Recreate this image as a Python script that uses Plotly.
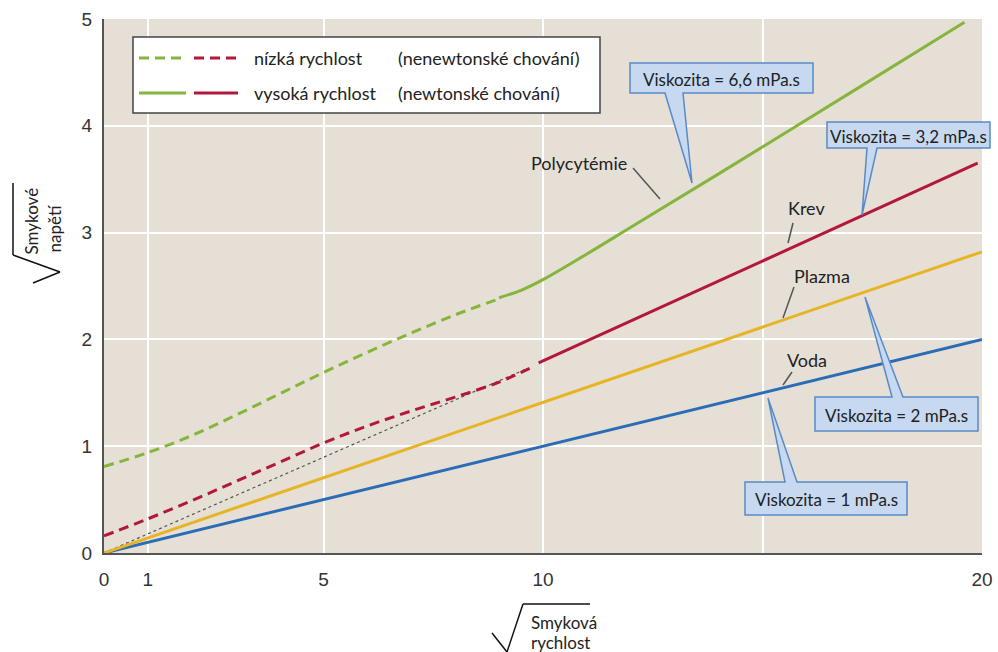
import plotly.graph_objects as go

# ---------------- data ----------------
voda_x = [0, 20]
voda_y = [0.0, 2.0]
plazma_x = [0, 20]
plazma_y = [0.0, 2.82]
krev_low_x = [0, 1, 2, 3, 4, 5, 6, 7, 8, 9, 9.8]
krev_low_y = [0.16, 0.32, 0.49, 0.67, 0.85, 1.03, 1.19, 1.33, 1.46, 1.60, 1.75]
krev_high_x = [9.9, 19.9]
krev_high_y = [1.78, 3.65]
poly_low_x = [0, 1, 2, 3, 4, 5, 6, 7, 8, 9]
poly_low_y = [0.81, 0.94, 1.10, 1.29, 1.49, 1.69, 1.88, 2.06, 2.23, 2.38]
poly_high_x = [9.0, 9.5, 10, 11, 12, 14, 17.2, 19.6]
poly_high_y = [2.39, 2.46, 2.56, 2.80, 3.05, 3.55, 4.36, 4.97]
ref_x = [0, 9.6]
ref_y = [0.0, 1.72]

x_ticks = [0, 1, 5, 10, 15, 20]
x_ticktext = ["0", "1", "5", "10", "", "20"]
y_ticks = [0, 1, 2, 3, 4, 5]

legend_rows = [("nízká rychlost", "(nenewtonské chování)"),
               ("vysoká rychlost", "(newtonské chování)")]
curve_labels = ["Polycytémie", "Krev", "Plazma", "Voda"]
callout_texts = ["Viskozita = 6,6 mPa.s", "Viskozita = 3,2 mPa.s",
                 "Viskozita = 2 mPa.s", "Viskozita = 1 mPa.s"]

# ---------------- styles ----------------
GREEN = "#86b53c"
RED = "#b3173b"
YELLOW = "#e6b425"
BLUE = "#2a6cb5"
BG = "#e6dfd6"
LBL_FONT = "Lato, 'Open Sans', sans-serif"
TICK_FONT = "'Liberation Sans', Arial, sans-serif"
DASH = "10px,6px"

W, H = 998, 652
L, R, T, B = 104, 982, 19, 553


def PX(x):
    return (x - L) / (R - L)


def PY(y):
    return (B - y) / (B - T)


fig = go.Figure()


def add_line(x, y, color, dash=None, width=3, spline=False):
    fig.add_trace(go.Scatter(
        x=x, y=y, mode="lines", showlegend=False, hoverinfo="skip",
        line=dict(color=color, width=width, dash=dash,
                  shape="spline" if spline else "linear")))


add_line(ref_x, ref_y, "#555555", dash="3px,3px", width=1.2)
add_line(voda_x, voda_y, BLUE)
add_line(plazma_x, plazma_y, YELLOW)
add_line(krev_low_x, krev_low_y, RED, dash=DASH, spline=True)
add_line(krev_high_x, krev_high_y, RED)
add_line(poly_low_x, poly_low_y, GREEN, dash=DASH, spline=True)
add_line(poly_high_x, poly_high_y, GREEN, spline=True)

shapes = []
annotations = []


def pline(x0, y0, x1, y1, color="#555555", width=1.5, dash=None):
    shapes.append(dict(type="line", xref="paper", yref="paper",
                       x0=PX(x0), y0=PY(y0), x1=PX(x1), y1=PY(y1),
                       line=dict(color=color, width=width, dash=dash)))


def text(s, x, y, size=16, xanchor="center", yanchor="middle", angle=0,
         family=LBL_FONT, color="#222222"):
    annotations.append(dict(text=s, x=PX(x), y=PY(y), xref="paper", yref="paper",
                            showarrow=False, xanchor=xanchor, yanchor=yanchor,
                            textangle=angle,
                            font=dict(family=family, size=size, color=color)))


# ---- legend box ----
shapes.append(dict(type="rect", xref="paper", yref="paper",
                   x0=PX(133), y0=PY(37), x1=PX(600), y1=PY(113),
                   fillcolor="white", line=dict(color="#444444", width=1.5)))
row_y = [58, 93]
for i, (a, b) in enumerate(legend_rows):
    d = DASH if i == 0 else None
    pline(139, row_y[i], 186, row_y[i], GREEN, 3, d)
    pline(194, row_y[i], 238, row_y[i], RED, 3, d)
    text(a, 252, row_y[i], 18, xanchor="left")
    text(b, 396, row_y[i], 18, xanchor="left")

# ---- curve labels with pointer lines ----
label_pos = [(579, 163), (806, 208), (822, 276), (807, 360)]
pointer = [(633, 168, 660, 199), (793, 223, 788, 243),
           (794, 287, 783, 318), (792, 372, 783, 385)]
for s, (x, y), (a, b, c, d) in zip(curve_labels, label_pos, pointer):
    text(s, x, y, 18)
    pline(a, b, c, d, "#555555", 1.5)

# ---- callouts (box + tail as one path) ----
boxes = [(630, 63, 813, 93), (827, 122, 990, 148), (815, 397, 978, 431), (745, 482, 907, 515)]
tails = [(665, 683, 692, 183, "bottom"), (867, 877, 862, 215, "bottom"),
         (892, 903, 865, 297, "top"), (785, 797, 768, 398, "top")]
for s, (x0, y0, x1, y1), (b0, b1, tx, ty, side) in zip(callout_texts, boxes, tails):
    if side == "bottom":
        pts = [(x0, y0), (x1, y0), (x1, y1), (b1, y1), (tx, ty), (b0, y1), (x0, y1)]
    else:
        pts = [(x0, y0), (b0, y0), (tx, ty), (b1, y0), (x1, y0), (x1, y1), (x0, y1)]
    path = "M " + " L ".join(f"{PX(px):.5f},{PY(py):.5f}" for px, py in pts) + " Z"
    shapes.append(dict(type="path", xref="paper", yref="paper", path=path,
                       fillcolor="#c6d9f1", line=dict(color="#5a8ac6", width=1.5)))
    text(s, (x0 + x1) / 2, (y0 + y1) / 2 + 1, 17)

# ---- axis titles with radical signs ----
# y axis
pline(13, 183, 13, 255, "#111111", 1.5)
pline(13, 255, 60, 272, "#111111", 1.5)
pline(60, 272, 33, 283, "#111111", 1.5)
text("Smykové", 31, 257, 17, xanchor="center", yanchor="bottom", angle=-90)
text("napětí", 54, 255, 17, xanchor="center", yanchor="bottom", angle=-90)
# x axis
pline(492, 633, 507, 652, "#111111", 1.5)
pline(507, 652, 523, 604, "#111111", 1.5)
pline(523, 604, 590, 604, "#111111", 1.5)
text("Smyková", 529, 622, 17, xanchor="left")
text("rychlost", 529, 642, 17, xanchor="left")

fig.update_layout(
    width=W, height=H, autosize=False,
    margin=dict(l=L, r=W - R, t=T, b=H - B, autoexpand=False),
    paper_bgcolor="white", plot_bgcolor=BG,
    shapes=shapes, annotations=annotations, showlegend=False,
    xaxis=dict(range=[0, 20], tickvals=x_ticks, ticktext=x_ticktext,
               automargin=False,
               showgrid=True, gridcolor="white", gridwidth=2,
               zeroline=False, showline=True, linecolor="#555555", linewidth=2,
               ticks="", ticklabelstandoff=8,
               tickfont=dict(family=TICK_FONT, size=19, color="#333333")),
    yaxis=dict(range=[0, 5], tickvals=y_ticks,
               automargin=False,
               showgrid=True, gridcolor="white", gridwidth=2,
               zeroline=False, showline=True, linecolor="#555555", linewidth=2,
               ticks="", ticklabelstandoff=6,
               tickfont=dict(family=TICK_FONT, size=19, color="#333333")),
)

fig.write_html("out.html", config={"displayModeBar": False},
               post_script="document.body.style.margin='0';")
